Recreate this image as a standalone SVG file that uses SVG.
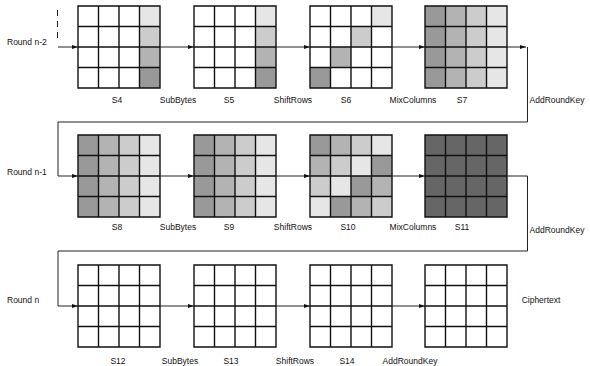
<svg xmlns="http://www.w3.org/2000/svg" xmlns:xlink="http://www.w3.org/1999/xlink" width="590" height="366" viewBox="0 0 590 366">
<style>
  text { font-family: "Liberation Sans", Arial, Helvetica, sans-serif; font-size: 8.5px; fill: #111; }
  .lbl { text-anchor: middle; }
  .bg { fill: #ffffff; }
  .c1 { fill: #e6e6e6; }
  .c2 { fill: #cccccc; }
  .c3 { fill: #b3b3b3; }
  .c4 { fill: #999999; }
  .c5 { fill: #666666; }
  .gl { fill: none; stroke: #111; stroke-width: 1.4; }
  .con { fill: none; stroke: #222; stroke-width: 1; }
  .dash { fill: none; stroke: #222; stroke-width: 1; stroke-dasharray: 6 5; }
</style>
<defs>
  <path id="grid" class="gl" d="M0,0 H82 V82 H0 Z M20.5,0 V82 M41,0 V82 M61.5,0 V82 M0,20.5 H82 M0,41 H82 M0,61.5 H82"/>
  <marker id="ah" viewBox="0 0 6 4" refX="6" refY="2" markerWidth="6" markerHeight="4" markerUnits="userSpaceOnUse" orient="auto">
    <path d="M0,0 L6,2 L0,4 Z" fill="#111"/>
  </marker>
</defs>

<g id="connectors">
  <path class="dash" d="M57.5,10 V38"/>
  <path class="con" d="M58,47 H78" marker-end="url(#ah)"/>
  <path class="con" d="M160,47 H194" marker-end="url(#ah)"/>
  <path class="con" d="M276,47 H310" marker-end="url(#ah)"/>
  <path class="con" d="M392,47 H425" marker-end="url(#ah)"/>
  <path class="con" d="M507,47 H526" marker-end="url(#ah)"/>
  <path class="con" d="M527.5,47 V122 H58 V176 H78" marker-end="url(#ah)"/>
  <path class="con" d="M160,176 H194" marker-end="url(#ah)"/>
  <path class="con" d="M276,176 H310" marker-end="url(#ah)"/>
  <path class="con" d="M392,176 H425" marker-end="url(#ah)"/>
  <path class="con" d="M507,176 H527.5 V251 H58 V306 H78" marker-end="url(#ah)"/>
  <path class="con" d="M160,306 H194" marker-end="url(#ah)"/>
  <path class="con" d="M276,306 H310" marker-end="url(#ah)"/>
  <path class="con" d="M392,306 H425" marker-end="url(#ah)"/>
</g>

<!-- Row n-2 -->
<g id="S4" transform="translate(78,6)">
  <rect class="bg" width="82" height="82"/>
  <rect class="c1" x="61.5" y="0" width="20.5" height="20.5"/>
  <rect class="c2" x="61.5" y="20.5" width="20.5" height="20.5"/>
  <rect class="c3" x="61.5" y="41" width="20.5" height="20.5"/>
  <rect class="c4" x="61.5" y="61.5" width="20.5" height="20.5"/>
  <use xlink:href="#grid"/>
</g>
<g id="S5" transform="translate(194,6)">
  <rect class="bg" width="82" height="82"/>
  <rect class="c1" x="61.5" y="0" width="20.5" height="20.5"/>
  <rect class="c2" x="61.5" y="20.5" width="20.5" height="20.5"/>
  <rect class="c3" x="61.5" y="41" width="20.5" height="20.5"/>
  <rect class="c4" x="61.5" y="61.5" width="20.5" height="20.5"/>
  <use xlink:href="#grid"/>
</g>
<g id="S6" transform="translate(310,6)">
  <rect class="bg" width="82" height="82"/>
  <rect class="c1" x="61.5" y="0" width="20.5" height="20.5"/>
  <rect class="c2" x="41" y="20.5" width="20.5" height="20.5"/>
  <rect class="c3" x="20.5" y="41" width="20.5" height="20.5"/>
  <rect class="c4" x="0" y="61.5" width="20.5" height="20.5"/>
  <use xlink:href="#grid"/>
</g>
<g id="S7" transform="translate(425,6)">
  <rect class="c4" x="0" width="20.5" height="82"/>
  <rect class="c3" x="20.5" width="20.5" height="82"/>
  <rect class="c2" x="41" width="20.5" height="82"/>
  <rect class="c1" x="61.5" width="20.5" height="82"/>
  <use xlink:href="#grid"/>
</g>

<!-- Row n-1 -->
<g id="S8" transform="translate(78,135)">
  <rect class="c4" x="0" width="20.5" height="82"/>
  <rect class="c3" x="20.5" width="20.5" height="82"/>
  <rect class="c2" x="41" width="20.5" height="82"/>
  <rect class="c1" x="61.5" width="20.5" height="82"/>
  <use xlink:href="#grid"/>
</g>
<g id="S9" transform="translate(194,135)">
  <rect class="c4" x="0" width="20.5" height="82"/>
  <rect class="c3" x="20.5" width="20.5" height="82"/>
  <rect class="c2" x="41" width="20.5" height="82"/>
  <rect class="c1" x="61.5" width="20.5" height="82"/>
  <use xlink:href="#grid"/>
</g>
<g id="S10" transform="translate(310,135)">
  <rect class="c4" x="0" y="0" width="20.5" height="20.5"/>
  <rect class="c3" x="20.5" y="0" width="20.5" height="20.5"/>
  <rect class="c2" x="41" y="0" width="20.5" height="20.5"/>
  <rect class="c1" x="61.5" y="0" width="20.5" height="20.5"/>
  <rect class="c3" x="0" y="20.5" width="20.5" height="20.5"/>
  <rect class="c2" x="20.5" y="20.5" width="20.5" height="20.5"/>
  <rect class="c1" x="41" y="20.5" width="20.5" height="20.5"/>
  <rect class="c4" x="61.5" y="20.5" width="20.5" height="20.5"/>
  <rect class="c2" x="0" y="41" width="20.5" height="20.5"/>
  <rect class="c1" x="20.5" y="41" width="20.5" height="20.5"/>
  <rect class="c4" x="41" y="41" width="20.5" height="20.5"/>
  <rect class="c3" x="61.5" y="41" width="20.5" height="20.5"/>
  <rect class="c1" x="0" y="61.5" width="20.5" height="20.5"/>
  <rect class="c4" x="20.5" y="61.5" width="20.5" height="20.5"/>
  <rect class="c3" x="41" y="61.5" width="20.5" height="20.5"/>
  <rect class="c2" x="61.5" y="61.5" width="20.5" height="20.5"/>
  <use xlink:href="#grid"/>
</g>
<g id="S11" transform="translate(425,135)">
  <rect class="c5" width="82" height="82"/>
  <use xlink:href="#grid"/>
</g>

<!-- Row n -->
<g id="S12" transform="translate(78,265)">
  <rect class="bg" width="82" height="82"/>
  <use xlink:href="#grid"/>
</g>
<g id="S13" transform="translate(194,265)">
  <rect class="bg" width="82" height="82"/>
  <use xlink:href="#grid"/>
</g>
<g id="S14" transform="translate(310,265)">
  <rect class="bg" width="82" height="82"/>
  <use xlink:href="#grid"/>
</g>
<g id="S15" transform="translate(425,265)">
  <rect class="bg" width="82" height="82"/>
  <use xlink:href="#grid"/>
</g>

<g id="labels">
  <text x="7" y="45">Round n-2</text>
  <text x="7" y="175">Round n-1</text>
  <text x="7" y="303">Round n</text>

  <text class="lbl" x="117" y="103">S4</text>
  <text class="lbl" x="178" y="103">SubBytes</text>
  <text class="lbl" x="229" y="103">S5</text>
  <text class="lbl" x="293" y="103">ShiftRows</text>
  <text class="lbl" x="346" y="103">S6</text>
  <text class="lbl" x="413" y="103">MixColumns</text>
  <text class="lbl" x="462" y="103">S7</text>
  <text class="lbl" x="557" y="103">AddRoundKey</text>

  <text class="lbl" x="117" y="230">S8</text>
  <text class="lbl" x="178" y="230">SubBytes</text>
  <text class="lbl" x="229" y="230">S9</text>
  <text class="lbl" x="293" y="230">ShiftRows</text>
  <text class="lbl" x="348" y="230">S10</text>
  <text class="lbl" x="413" y="230">MixColumns</text>
  <text class="lbl" x="462" y="230">S11</text>
  <text class="lbl" x="557" y="233">AddRoundKey</text>

  <text class="lbl" x="118" y="364">S12</text>
  <text class="lbl" x="180" y="364">SubBytes</text>
  <text class="lbl" x="231" y="364">S13</text>
  <text class="lbl" x="295" y="364">ShiftRows</text>
  <text class="lbl" x="347" y="364">S14</text>
  <text class="lbl" x="410" y="364">AddRoundKey</text>
  <text class="lbl" x="541" y="303">Ciphertext</text>
</g>
</svg>
